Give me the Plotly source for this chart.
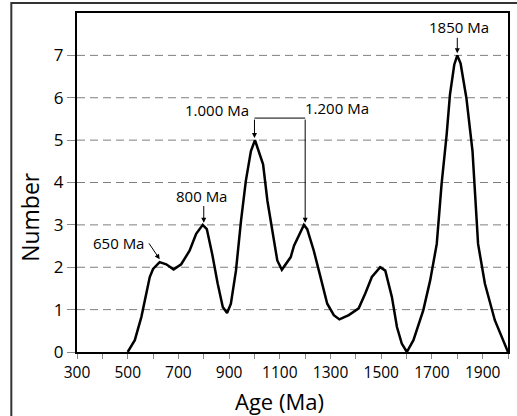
import plotly.graph_objects as go

# Age distribution of detrital zircons (number of grains per age)
ages = [500, 528, 554, 567, 587, 600, 626, 652, 681, 711, 744, 770, 796, 812,
        833, 855, 875, 892, 907, 927, 947, 966, 986, 1002, 1018, 1034, 1051,
        1071, 1090, 1108, 1126, 1143, 1156, 1176, 1195, 1208, 1234, 1257, 1287,
        1313, 1335, 1372, 1411, 1437, 1463, 1496, 1516, 1542, 1562, 1581, 1601,
        1627, 1666, 1693, 1719, 1738, 1758, 1771, 1788, 1800, 1813, 1836, 1860,
        1882, 1909, 1948, 2000]
counts = [0, 0.28, 0.83, 1.22, 1.77, 1.96, 2.12, 2.07, 1.95, 2.07, 2.39, 2.79,
          3.0, 2.9, 2.32, 1.61, 1.06, 0.92, 1.14, 1.92, 3.1, 4.04, 4.74, 5.0,
          4.74, 4.43, 3.57, 2.79, 2.16, 1.94, 2.08, 2.24, 2.51, 2.75, 3.0, 2.9,
          2.39, 1.85, 1.14, 0.87, 0.77, 0.87, 1.03, 1.38, 1.77, 2.0, 1.92, 1.3,
          0.59, 0.2, 0, 0.28, 0.99, 1.69, 2.55, 3.96, 5.13, 6.07, 6.78, 7.0,
          6.81, 5.99, 4.74, 2.55, 1.61, 0.75, 0]

x_ticks = list(range(300, 2001, 100))
x_tick_labels = [str(v) if (v // 100) % 2 == 1 else "" for v in x_ticks]
y_ticks = [0, 1, 2, 3, 4, 5, 6, 7]

# Peak labels: text, peak age, peak count
peak_labels = ["650 Ma", "800 Ma", "1.000 Ma", "1.200 Ma", "1850 Ma"]
peak_ages = [626, 800, 1000, 1200, 1800]
peak_counts = [2.12, 3.0, 5.0, 3.0, 7.0]

FONT = "Open Sans"
LABEL_FONT = dict(family=FONT, size=15, color="black")

fig = go.Figure()
fig.add_trace(go.Scatter(
    x=ages, y=counts, mode="lines",
    line=dict(color="black", width=2.5),
    showlegend=False, hoverinfo="skip",
))

annotations = []
shapes = []


def arrow(x, y, ax, ay):
    return dict(x=x, y=y, xref="x", yref="y", ax=ax, ay=ay,
                axref="x", ayref="y", text="", showarrow=True,
                arrowhead=2, arrowsize=1, arrowwidth=1, arrowcolor="black")


# 650 Ma: diagonal arrow
annotations.append(arrow(peak_ages[0], peak_counts[0] + 0.07, 580, 2.6))
annotations.append(dict(x=463, y=2.57, xref="x", yref="y", text=peak_labels[0],
                        showarrow=False, font=LABEL_FONT))

# 800 Ma: vertical arrow
annotations.append(arrow(peak_ages[1], peak_counts[1] + 0.05, peak_ages[1], 3.48))
annotations.append(dict(x=793, y=3.68, xref="x", yref="y", text=peak_labels[1],
                        showarrow=False, font=LABEL_FONT))

# 1.000 / 1.200 Ma bracket
bracket_y = 5.52
shapes.append(dict(type="line", xref="x", yref="y",
                   x0=peak_ages[2], x1=peak_ages[3], y0=bracket_y, y1=bracket_y,
                   line=dict(color="black", width=1)))
for a, c in [(peak_ages[2], peak_counts[2]), (peak_ages[3], peak_counts[3])]:
    annotations.append(arrow(a, c + 0.05, a, bracket_y))
annotations.append(dict(x=988, y=5.72, xref="x", yref="y", text=peak_labels[2],
                        xanchor="right", showarrow=False, font=LABEL_FONT))
annotations.append(dict(x=1190, y=5.76, xref="x", yref="y", text=peak_labels[3],
                        xanchor="left", showarrow=False, font=LABEL_FONT))

# 1850 Ma
annotations.append(arrow(peak_ages[4], peak_counts[4] + 0.05, peak_ages[4], 7.45))
annotations.append(dict(x=1808, y=7.66, xref="x", yref="y", text=peak_labels[4],
                        showarrow=False, font=LABEL_FONT))

# Axis titles
annotations.append(dict(x=-0.108, y=0.40, xref="paper", yref="paper",
                        xanchor="center", yanchor="middle",
                        text="Number", textangle=-90, showarrow=False,
                        font=dict(family=FONT, size=23, color="black")))
annotations.append(dict(x=0.469, y=-0.145, xref="paper", yref="paper",
                        xanchor="center", yanchor="middle",
                        text="Age (Ma)", showarrow=False,
                        font=dict(family=FONT, size=22, color="black")))

# Horizontal dashed gridlines
for v in y_ticks[1:]:
    shapes.append(dict(type="line", xref="paper", yref="y", x0=0, x1=1,
                       y0=v, y1=v, layer="below",
                       line=dict(color="#7f7f7f", width=1, dash="8px,5px")))

# Outer frame around the whole chart
shapes.append(dict(type="rect", xref="paper", yref="paper",
                   x0=-0.1524, x1=1.2, y0=-0.3, y1=1.0295,
                   line=dict(color="#333333", width=2)))

fig.update_layout(
    width=517, height=416,
    margin=dict(l=77, r=7, t=13, b=64),
    paper_bgcolor="white", plot_bgcolor="white",
    font=dict(family=FONT, color="black"),
    annotations=annotations, shapes=shapes,
    xaxis=dict(
        range=[300, 2000], tickmode="array", tickvals=x_ticks,
        ticktext=x_tick_labels, ticks="outside", ticklen=5, tickcolor="#888888",
        tickwidth=1, showgrid=False, zeroline=False,
        showline=True, linecolor="black", linewidth=2, mirror=True,
        tickfont=dict(family=FONT, size=15.5, color="black"),
    ),
    yaxis=dict(
        range=[0, 8], tickmode="array", tickvals=y_ticks,
        ticks="outside", ticklen=8, tickcolor="#888888", tickwidth=1,
        showgrid=False, zeroline=False,
        showline=True, linecolor="black", linewidth=2, mirror=True,
        tickfont=dict(family=FONT, size=17, color="black"),
    ),
)

fig.write_html("out.html")
